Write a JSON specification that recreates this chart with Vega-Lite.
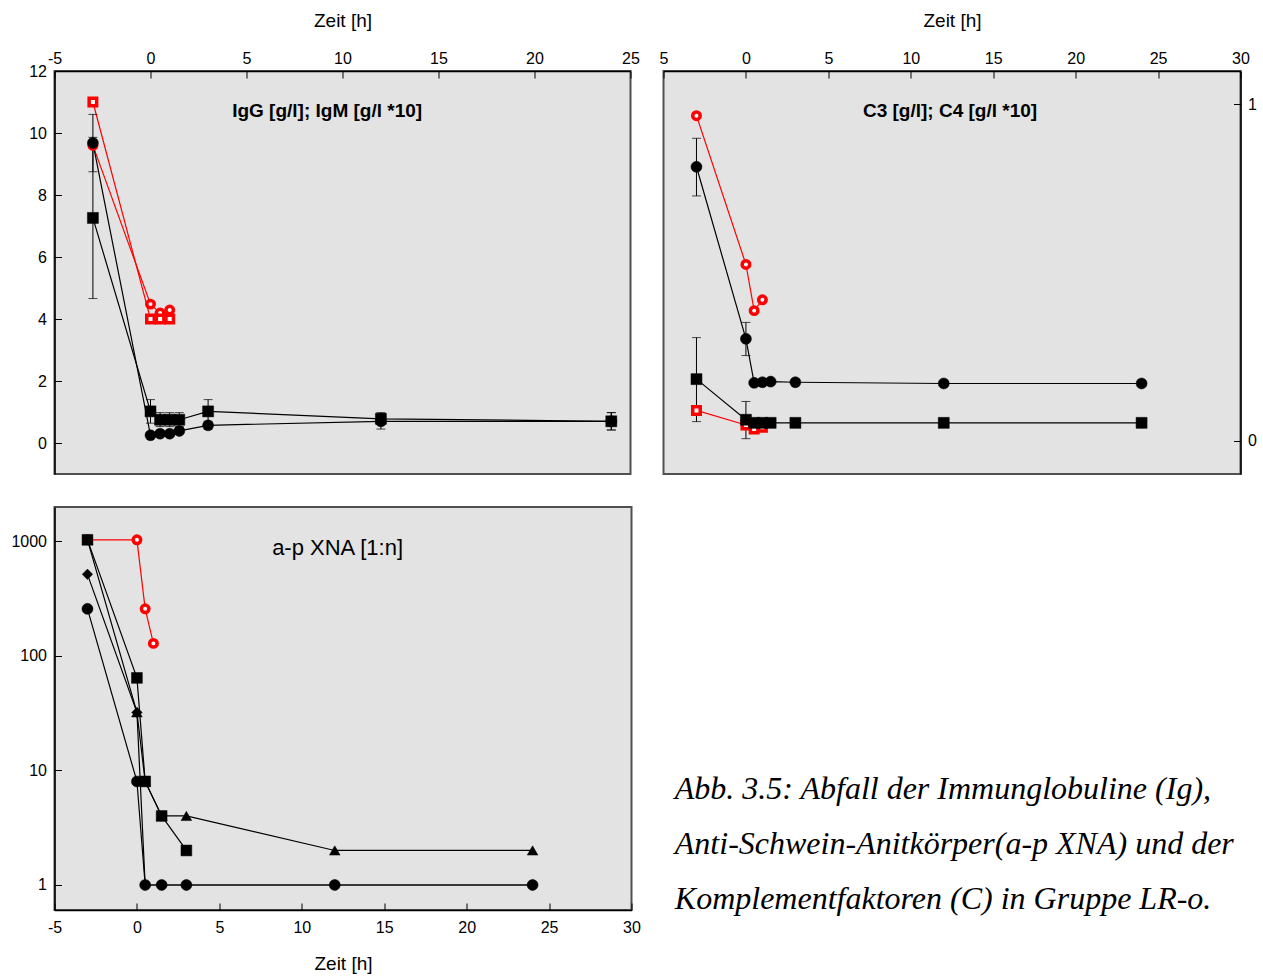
{
  "$schema": "https://vega.github.io/schema/vega-lite/v6.json",
  "padding": {"left": 9.5, "top": 10, "right": 5, "bottom": 5},
  "background": "white",
  "bounds": "flush",
  "columns": 2,
  "spacing": {"row": 33, "column": 32},
  "resolve": {"scale": {"color": "independent", "shape": "independent", "size": "independent", "fill": "independent", "stroke": "independent"}, "legend": {"color": "independent", "shape": "independent", "size": "independent", "fill": "independent", "stroke": "independent"}},
  "datasets": {
    "ig": [
      {"series": "IgG-p06", "t": -3, "v": 9.6},
      {"series": "IgG-p06", "t": 0, "v": 4.48},
      {"series": "IgG-p06", "t": 0.5, "v": 4.19},
      {"series": "IgG-p06", "t": 1, "v": 4.29},
      {"series": "IgG LR-oXHTx", "t": -3, "v": 9.68, "lo": 8.75, "hi": 10.6},
      {"series": "IgG LR-oXHTx", "t": 0, "v": 0.25},
      {"series": "IgG LR-oXHTx", "t": 0.5, "v": 0.3},
      {"series": "IgG LR-oXHTx", "t": 1, "v": 0.3},
      {"series": "IgG LR-oXHTx", "t": 1.5, "v": 0.39},
      {"series": "IgG LR-oXHTx", "t": 3, "v": 0.57, "lo": 0.45, "hi": 0.7},
      {"series": "IgG LR-oXHTx", "t": 12, "v": 0.7, "lo": 0.45, "hi": 0.95},
      {"series": "IgG LR-oXHTx", "t": 24, "v": 0.7, "lo": 0.42, "hi": 0.98},
      {"series": "IgM p06", "t": -3, "v": 11.0},
      {"series": "IgM p06", "t": 0, "v": 4.0},
      {"series": "IgM p06", "t": 0.5, "v": 4.0},
      {"series": "IgM p06", "t": 1, "v": 4.0},
      {"series": "IgM LR-oXHTx", "t": -3, "v": 7.26, "lo": 4.66, "hi": 9.86},
      {"series": "IgM LR-oXHTx", "t": 0, "v": 1.02, "lo": 0.64, "hi": 1.4},
      {"series": "IgM LR-oXHTx", "t": 0.5, "v": 0.75, "lo": 0.53, "hi": 0.98},
      {"series": "IgM LR-oXHTx", "t": 1, "v": 0.75, "lo": 0.53, "hi": 0.98},
      {"series": "IgM LR-oXHTx", "t": 1.5, "v": 0.75, "lo": 0.53, "hi": 0.98},
      {"series": "IgM LR-oXHTx", "t": 3, "v": 1.02, "lo": 0.64, "hi": 1.4},
      {"series": "IgM LR-oXHTx", "t": 12, "v": 0.78, "lo": 0.6, "hi": 0.98},
      {"series": "IgM LR-oXHTx", "t": 24, "v": 0.7, "lo": 0.42, "hi": 0.98}
    ],
    "c": [
      {"series": "C3-p06", "t": -3, "v": 10.56},
      {"series": "C3-p06", "t": 0, "v": 5.76},
      {"series": "C3-p06", "t": 0.5, "v": 4.27},
      {"series": "C3-p06", "t": 1, "v": 4.62},
      {"series": "C3 LR oXHTx", "t": -3, "v": 8.91, "lo": 7.97, "hi": 9.83},
      {"series": "C3 LR oXHTx", "t": 0, "v": 3.36, "lo": 2.82, "hi": 3.89},
      {"series": "C3 LR oXHTx", "t": 0.5, "v": 1.94},
      {"series": "C3 LR oXHTx", "t": 1, "v": 1.96},
      {"series": "C3 LR oXHTx", "t": 1.5, "v": 1.98},
      {"series": "C3 LR oXHTx", "t": 3, "v": 1.96},
      {"series": "C3 LR oXHTx", "t": 12, "v": 1.92},
      {"series": "C3 LR oXHTx", "t": 24, "v": 1.92},
      {"series": "C4-p06", "t": -3, "v": 1.05},
      {"series": "C4-p06", "t": 0, "v": 0.58},
      {"series": "C4-p06", "t": 0.5, "v": 0.45},
      {"series": "C4-p06", "t": 1, "v": 0.51},
      {"series": "C4 LR oXHTx", "t": -3, "v": 2.06, "lo": 0.69, "hi": 3.4},
      {"series": "C4 LR oXHTx", "t": 0, "v": 0.75, "lo": 0.14, "hi": 1.34},
      {"series": "C4 LR oXHTx", "t": 0.5, "v": 0.65},
      {"series": "C4 LR oXHTx", "t": 1, "v": 0.65},
      {"series": "C4 LR oXHTx", "t": 1.5, "v": 0.65},
      {"series": "C4 LR oXHTx", "t": 3, "v": 0.65},
      {"series": "C4 LR oXHTx", "t": 12, "v": 0.65},
      {"series": "C4 LR oXHTx", "t": 24, "v": 0.65}
    ],
    "xna": [
      {"series": "a-p XNA-p09", "t": -3, "v": 256},
      {"series": "a-p XNA-p09", "t": 0, "v": 8},
      {"series": "a-p XNA-p09", "t": 0.5, "v": 1},
      {"series": "a-p XNA-p09", "t": 1.5, "v": 1},
      {"series": "a-p XNA-p09", "t": 3, "v": 1},
      {"series": "a-p XNA-p09", "t": 12, "v": 1},
      {"series": "a-p XNA-p09", "t": 24, "v": 1},
      {"series": "a-p XNA-p10", "t": -3, "v": 1024},
      {"series": "a-p XNA-p10", "t": 0, "v": 64},
      {"series": "a-p XNA-p10", "t": 0.5, "v": 8},
      {"series": "a-p XNA-p10", "t": 1.5, "v": 4},
      {"series": "a-p XNA-p10", "t": 3, "v": 2},
      {"series": "a-p XNA-p11", "t": -3, "v": 1024},
      {"series": "a-p XNA-p11", "t": 0, "v": 32},
      {"series": "a-p XNA-p11", "t": 0.5, "v": 8},
      {"series": "a-p XNA-p11", "t": 1.5, "v": 4},
      {"series": "a-p XNA-p11", "t": 3, "v": 4},
      {"series": "a-p XNA-p11", "t": 12, "v": 2},
      {"series": "a-p XNA-p11", "t": 24, "v": 2},
      {"series": "a-p XNA-p12", "t": -3, "v": 512},
      {"series": "a-p XNA-p12", "t": 0, "v": 32},
      {"series": "a-p XNA-p12", "t": 0.5, "v": 1},
      {"series": "a-p XNA-p12", "t": 1.5, "v": 1},
      {"series": "a-p XNA-p12", "t": 3, "v": 1},
      {"series": "a-p XNA-p12", "t": 12, "v": 1},
      {"series": "a-p XNA-p12", "t": 24, "v": 1},
      {"series": "a-p XNA-p06", "t": -3, "v": 1024},
      {"series": "a-p XNA-p06", "t": 0, "v": 1024},
      {"series": "a-p XNA-p06", "t": 0.5, "v": 256},
      {"series": "a-p XNA-p06", "t": 1, "v": 128}
    ],
    "cap": [
      {"line": 1, "text": "Abb. 3.5: Abfall der Immunglobuline (Ig),"},
      {"line": 2, "text": "Anti-Schwein-Anitkörper(a-p XNA) und der"},
      {"line": 3, "text": "Komplementfaktoren (C) in Gruppe LR-o."}
    ]
  },
  "concat": [
    {
      "width": 576,
      "height": 403,
      "data": {"name": "ig"},
      "encoding": {
        "x": {"field": "t", "type": "quantitative", "scale": {"domain": [-5, 25], "nice": false, "zero": false}, "axis": {"orient": "top", "title": "Zeit [h]", "values": [-5, 0, 5, 10, 15, 20, 25]}},
        "y": {"field": "v", "type": "quantitative", "scale": {"domain": [-1, 12], "nice": false, "zero": false}, "axis": {"title": null, "values": [0, 2, 4, 6, 8, 10, 12]}}
      },
      "layer": [
        {"mark": {"type": "line", "strokeWidth": 1.2}, "encoding": {"color": {"field": "series", "type": "nominal", "scale": {"domain": ["IgG-p06", "IgG LR-oXHTx", "IgM p06", "IgM LR-oXHTx"], "range": ["#ff0000", "#000000", "#ff0000", "#000000"]}, "legend": null}}},
        {"transform": [{"filter": "isValid(datum.lo)"}], "mark": {"type": "errorbar", "ticks": {"size": 9, "color": "black"}, "rule": {"color": "black", "strokeWidth": 1}, "color": "black"}, "encoding": {"y": {"field": "lo", "type": "quantitative", "title": null}, "y2": {"field": "hi"}}},
        {"transform": [{"filter": "indexof(datum.series,'p06')>=0"}], "mark": {"type": "point", "filled": true, "strokeWidth": 3.5, "size": 56, "opacity": 1},
         "encoding": {
           "shape": {"field": "series", "type": "nominal", "title": null, "scale": {"domain": ["IgG-p06", "IgG LR-oXHTx", "IgM p06", "IgM LR-oXHTx"], "range": ["circle", "circle", "square", "square"]},
             "legend": {"orient": "none", "legendX": 396, "legendY": 16, "title": null, "padding": 11, "fillColor": "white", "strokeColor": "#222222", "symbolSize": 90, "symbolStrokeWidth": 2.5, "symbolOffset": 10, "labelOffset": 28, "labelFontSize": 16, "labelFont": "Liberation Sans", "labelColor": "black", "rowPadding": 5.7}},
           "fill": {"field": "series", "type": "nominal", "title": null, "scale": {"domain": ["IgG-p06", "IgG LR-oXHTx", "IgM p06", "IgM LR-oXHTx"], "range": ["#ffffff", "#000000", "#ffffff", "#000000"]}},
           "stroke": {"field": "series", "type": "nominal", "title": null, "scale": {"domain": ["IgG-p06", "IgG LR-oXHTx", "IgM p06", "IgM LR-oXHTx"], "range": ["#ff0000", "#000000", "#ff0000", "#000000"]}}
         }},
        {"transform": [{"filter": "indexof(datum.series,'p06')<0"}], "mark": {"type": "point", "filled": true, "strokeWidth": 0.5, "size": 121, "opacity": 1},
         "encoding": {"shape": {"field": "series", "type": "nominal", "title": null}, "fill": {"field": "series", "type": "nominal", "title": null}, "stroke": {"field": "series", "type": "nominal", "title": null}}},
        {"transform": [{"filter": "datum.series == 'IgG-p06' && datum.t == -3"}], "mark": {"type": "text", "fontWeight": "bold", "fontSize": 19, "font": "Liberation Sans", "color": "black"}, "encoding": {"x": {"datum": 9.2, "type": "quantitative"}, "y": {"datum": 10.7, "type": "quantitative"}, "text": {"value": "IgG [g/l]; IgM [g/l *10]"}}}
      ]
    },
    {
      "width": 577,
      "height": 403,
      "layer": [
        {
          "data": {"name": "c"},
          "encoding": {
            "x": {"field": "t", "type": "quantitative", "scale": {"domain": [-5, 30], "nice": false, "zero": false}, "axis": {"orient": "top", "title": "Zeit [h]", "values": [-5, 0, 5, 10, 15, 20, 25, 30], "labelExpr": "datum.value == -5 ? '5' : datum.label"}},
            "y": {"field": "v", "type": "quantitative", "scale": {"domain": [-1, 12], "nice": false, "zero": false}, "axis": null}
          },
          "layer": [
            {"mark": {"type": "line", "strokeWidth": 1.2}, "encoding": {"color": {"field": "series", "type": "nominal", "scale": {"domain": ["C3-p06", "C3 LR oXHTx", "C4-p06", "C4 LR oXHTx"], "range": ["#ff0000", "#000000", "#ff0000", "#000000"]}, "legend": null}}},
            {"transform": [{"filter": "isValid(datum.lo)"}], "mark": {"type": "errorbar", "ticks": {"size": 9, "color": "black"}, "rule": {"color": "black", "strokeWidth": 1}, "color": "black"}, "encoding": {"y": {"field": "lo", "type": "quantitative", "axis": null}, "y2": {"field": "hi"}}},
            {"transform": [{"filter": "indexof(datum.series,'p06')>=0"}], "mark": {"type": "point", "filled": true, "strokeWidth": 3.5, "size": 56, "opacity": 1},
             "encoding": {
               "shape": {"field": "series", "type": "nominal", "title": null, "scale": {"domain": ["C3-p06", "C3 LR oXHTx", "C4-p06", "C4 LR oXHTx"], "range": ["circle", "circle", "square", "square"]},
                 "legend": {"orient": "none", "legendX": 387, "legendY": 21, "title": null, "padding": 11, "fillColor": "white", "strokeColor": "#222222", "symbolSize": 90, "symbolStrokeWidth": 2.5, "symbolOffset": 10, "labelOffset": 28, "labelFontSize": 16, "labelFont": "Liberation Sans", "labelColor": "black", "rowPadding": 5.7}},
               "fill": {"field": "series", "type": "nominal", "title": null, "scale": {"domain": ["C3-p06", "C3 LR oXHTx", "C4-p06", "C4 LR oXHTx"], "range": ["#ffffff", "#000000", "#ffffff", "#000000"]}},
               "stroke": {"field": "series", "type": "nominal", "title": null, "scale": {"domain": ["C3-p06", "C3 LR oXHTx", "C4-p06", "C4 LR oXHTx"], "range": ["#ff0000", "#000000", "#ff0000", "#000000"]}}
             }},
            {"transform": [{"filter": "indexof(datum.series,'p06')<0"}], "mark": {"type": "point", "filled": true, "strokeWidth": 0.5, "size": 121, "opacity": 1},
             "encoding": {"shape": {"field": "series", "type": "nominal", "title": null}, "fill": {"field": "series", "type": "nominal", "title": null}, "stroke": {"field": "series", "type": "nominal", "title": null}}},
            {"transform": [{"filter": "datum.series == 'C3-p06' && datum.t == -3"}], "mark": {"type": "text", "fontWeight": "bold", "fontSize": 19, "font": "Liberation Sans", "color": "black"}, "encoding": {"x": {"datum": 12.38, "type": "quantitative"}, "y": {"datum": 10.7, "type": "quantitative"}, "text": {"value": "C3 [g/l]; C4 [g/l *10]"}}}
          ]
        },
        {
          "data": {"values": [{"r": 0}, {"r": 1}]},
          "mark": {"type": "point", "opacity": 0},
          "encoding": {"y": {"field": "r", "type": "quantitative", "scale": {"domain": [-0.098, 1.098], "nice": false, "zero": false}, "axis": {"orient": "right", "title": null, "values": [0, 1], "format": "d"}}}
        }
      ],
      "resolve": {"scale": {"y": "independent"}, "axis": {"y": "independent"}}
    },
    {
      "width": 577,
      "height": 403,
      "data": {"name": "xna"},
      "encoding": {
        "x": {"field": "t", "type": "quantitative", "scale": {"domain": [-5, 30], "nice": false, "zero": false}, "axis": {"orient": "bottom", "title": "Zeit [h]", "values": [-5, 0, 5, 10, 15, 20, 25, 30]}},
        "y": {"field": "v", "type": "quantitative", "scale": {"type": "log", "domain": [0.605, 1980], "nice": false}, "axis": {"title": null, "values": [1, 10, 100, 1000], "format": "d"}}
      },
      "layer": [
        {"mark": {"type": "line", "strokeWidth": 1.2}, "encoding": {"color": {"field": "series", "type": "nominal", "scale": {"domain": ["a-p XNA-p09", "a-p XNA-p10", "a-p XNA-p11", "a-p XNA-p12", "a-p XNA-p06"], "range": ["#000000", "#000000", "#000000", "#000000", "#ff0000"]}, "legend": null}}},
        {"transform": [{"filter": "indexof(datum.series,'p06')>=0"}], "mark": {"type": "point", "filled": true, "strokeWidth": 3.5, "size": 56, "opacity": 1},
         "encoding": {
           "shape": {"field": "series", "type": "nominal", "title": null, "scale": {"domain": ["a-p XNA-p09", "a-p XNA-p10", "a-p XNA-p11", "a-p XNA-p12", "a-p XNA-p06"], "range": ["circle", "square", "triangle-up", "diamond", "circle"]},
             "legend": {"orient": "none", "legendX": 396, "legendY": 21, "title": null, "padding": 11, "fillColor": "white", "strokeColor": "#222222", "symbolSize": 90, "symbolStrokeWidth": 2.5, "symbolOffset": 10, "labelOffset": 28, "labelFontSize": 16, "labelFont": "Liberation Sans", "labelColor": "black", "rowPadding": 5.5}},
           "fill": {"field": "series", "type": "nominal", "title": null, "scale": {"domain": ["a-p XNA-p09", "a-p XNA-p10", "a-p XNA-p11", "a-p XNA-p12", "a-p XNA-p06"], "range": ["#000000", "#000000", "#000000", "#000000", "#ffffff"]}},
           "stroke": {"field": "series", "type": "nominal", "title": null, "scale": {"domain": ["a-p XNA-p09", "a-p XNA-p10", "a-p XNA-p11", "a-p XNA-p12", "a-p XNA-p06"], "range": ["#000000", "#000000", "#000000", "#000000", "#ff0000"]}}
         }},
        {"transform": [{"filter": "indexof(datum.series,'p06')<0"}], "mark": {"type": "point", "filled": true, "strokeWidth": 0.5, "opacity": 1},
         "encoding": {"shape": {"field": "series", "type": "nominal", "title": null}, "fill": {"field": "series", "type": "nominal", "title": null}, "stroke": {"field": "series", "type": "nominal", "title": null},
                      "size": {"field": "series", "type": "ordinal", "scale": {"domain": ["a-p XNA-p09", "a-p XNA-p10", "a-p XNA-p11", "a-p XNA-p12"], "range": [121, 110, 190, 190]}, "legend": null}}},
        {"transform": [{"filter": "datum.series == 'a-p XNA-p06' && datum.t == -3"}], "mark": {"type": "text", "fontSize": 22, "font": "Liberation Sans", "color": "black"}, "encoding": {"x": {"datum": 12.17, "type": "quantitative"}, "y": {"datum": 867, "type": "quantitative"}, "text": {"value": "a-p XNA [1:n]"}}}
      ]
    },
    {
      "width": 577,
      "height": 403,
      "data": {"name": "cap"},
      "view": {"stroke": null, "fill": null},
      "mark": {"type": "text", "font": "Liberation Serif", "fontStyle": "italic", "fontSize": 32, "align": "left", "baseline": "middle", "color": "black"},
      "encoding": {
        "x": {"datum": 0, "type": "quantitative", "scale": {"domain": [-0.02, 1], "nice": false, "zero": false}, "axis": null},
        "y": {"field": "line", "type": "quantitative", "scale": {"domain": [-4.127, 3.2], "reverse": true, "nice": false, "zero": false}, "axis": null},
        "text": {"field": "text"}
      }
    }
  ],
  "config": {
    "font": "Liberation Sans",
    "view": {"fill": "#e3e3e3", "stroke": "#505050", "strokeWidth": 2},
    "axis": {
      "labelFont": "Liberation Sans", "labelFontSize": 16, "labelColor": "black",
      "titleFont": "Liberation Sans", "titleFontSize": 19, "titleFontWeight": "normal", "titleColor": "black",
      "domainColor": "black", "domainWidth": 1.5, "tickColor": "black", "tickSize": -7, "tickWidth": 1,
      "grid": false, "labelFlush": false, "labelOverlap": false, "labelBound": false,
      "labelExpr": "datum.value < 0 ? '-' + abs(datum.value) : datum.label"
    },
    "axisTop": {"labelPadding": 11.6, "titlePadding": 20},
    "axisBottom": {"labelPadding": 16, "titlePadding": 19},
    "axisLeft": {"labelPadding": 15},
    "axisRight": {"labelPadding": 14}
  }
}
